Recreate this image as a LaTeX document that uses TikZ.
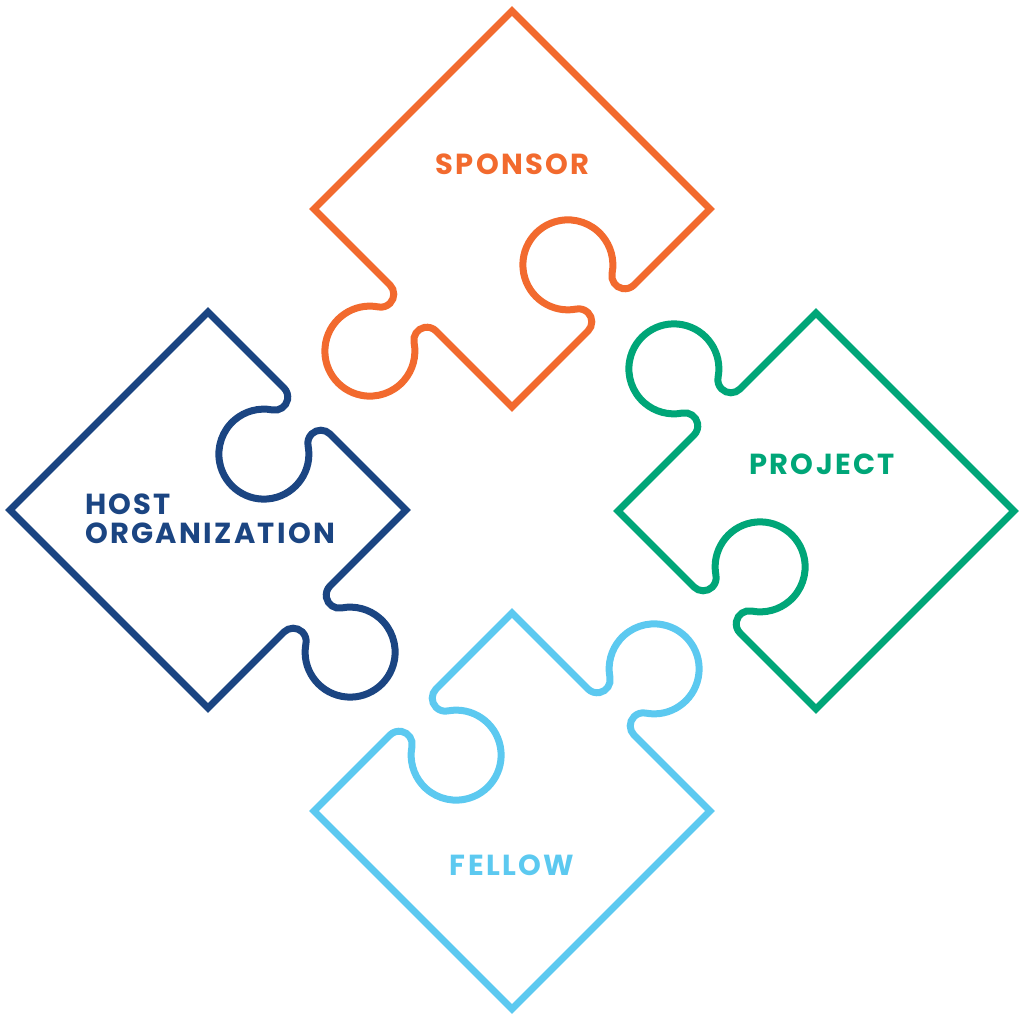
\documentclass[tikz,border=0pt]{standalone}
\usepackage{fontspec}
\newfontfamily\labfont{Poppins}[LetterSpace=8, UprightFont={Poppins SemiBold}, BoldFont={Poppins Bold}]
\definecolor{cSponsor}{RGB}{242,106,46}
\definecolor{cHost}{RGB}{27,69,130}
\definecolor{cProject}{RGB}{0,166,120}
\definecolor{cFellow}{RGB}{92,201,240}
\newcommand{\piecepath}{(0,198) -- ++(225:280.01)
  -- ++(315:107.44)
  arc[start angle=45, end angle=-100.84, radius=13]
  arc[start angle=79.16, end angle=370.84, radius=45]
  arc[start angle=190.84, end angle=45, radius=13]
  -- ++(315:107.44)
  -- ++(45:107.44)
  arc[start angle=-45, end angle=100.84, radius=13]
  arc[start angle=280.84, end angle=-10.84, radius=45]
  arc[start angle=169.16, end angle=315, radius=13]
  -- ++(45:107.44) -- cycle}
\begin{document}
\begin{tikzpicture}[x=1pt,y=1pt,
  piece/.style={line width=7pt, line join=miter},
  lab/.style={inner sep=0pt, font=\labfont\bfseries\fontsize{29}{35}\selectfont}]
\useasboundingbox (0,0) rectangle (1019,1015);
\begin{scope}[shift={(512,806)}]
  \draw[piece, cSponsor] \piecepath;
\end{scope}
\begin{scope}[shift={(816,504)}, rotate=-90]
  \draw[piece, cProject] \piecepath;
\end{scope}
\begin{scope}[shift={(512,204)}, rotate=180]
  \draw[piece, cFellow] \piecepath;
\end{scope}
\begin{scope}[shift={(208,505)}, rotate=90]
  \draw[piece, cHost] \piecepath;
\end{scope}
\node[lab, text=cSponsor, anchor=base] (sponsor) at (512.5,840) {SPONSOR};
\node[lab, text=cProject, anchor=base] (project) at (822,540) {PROJECT};
\node[lab, text=cFellow, anchor=base] (fellow) at (512,140) {FELLOW};
\node[lab, text=cHost, anchor=base west] (host) at (85,500) {HOST};
\node[lab, text=cHost, anchor=base west] (org) at (85,471) {ORGANIZATION};
\end{tikzpicture}
\end{document}
